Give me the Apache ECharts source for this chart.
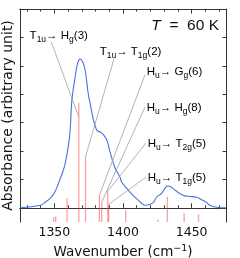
<!DOCTYPE html>
<html><head><meta charset="utf-8">
<script src="https://cdn.jsdelivr.net/npm/echarts@6/dist/echarts.min.js"></script>
<style>html,body{margin:0;padding:0;background:#fff}#c{width:240px;height:258px}</style>
</head><body><div id="c"></div>
<script>
// ---- data ----
const specX = [1325,1340,1343.4,1347,1350,1353,1356,1357.9,1360.3,1361.5,1362.8,1365.2,1367,1368.8,1370.6,1372.4,1374.8,1376.4,1378.5,1380.2,1381.1,1383.3,1385.7,1388.2,1390.6,1394.2,1397.8,1399.1,1403.9,1405.1,1408,1411.1,1414.8,1417.2,1419.6,1422,1424.5,1428.1,1431.8,1432.9,1435.4,1438.5,1441.4,1445,1448.7,1453.5,1455.9,1460.8,1463.2,1468.1,1475];
const specY = [0,0.09,0.2,0.33,0.52,0.86,1.25,1.56,2.2,2.74,3.8,4.62,5.1,5.24,5.14,4.86,3.98,3.6,3.09,2.82,2.72,2.67,2.58,2.39,1.96,1.4,1.08,0.9,0.62,0.55,0.4,0.27,0.11,0.09,0.12,0.18,0.38,0.51,0.76,0.77,0.72,0.6,0.5,0.42,0.4,0.37,0.32,0.19,0.09,0.02,0];
const stickX = [1349.5,1351,1359.3,1367.8,1372.7,1382.8,1384.5,1388.9,1389.6,1402,1425.5,1432.3,1444.5,1455];
const stickH = [0.17,0.2,0.84,4.2,2.3,0.94,0.7,1.08,0.62,0.41,0.08,0.88,0.32,0.27];
const xMajor = [1350,1400,1450];
const xMinor = [1330,1340,1360,1370,1380,1390,1410,1420,1430,1440,1460,1470];
const yTicks = [0,1,2,3,4,5,6,7];
const annoText = [
  '{m|T}{s|1u}{m|→ H}{s|g}{m|(3)}',
  '{m|T}{s|1u}{m|→ T}{s|1g}{m|(2)}',
  '{m|H}{s|u}{m|→ G}{s|g}{m|(6)}',
  '{m|H}{s|u}{m|→ H}{s|g}{m|(8)}',
  '{m|H}{s|u}{m|→ T}{s|2g}{m|(5)}',
  '{m|H}{s|u}{m|→ T}{s|1g}{m|(5)}'
];
// annotation layout (text anchor, line start, line end) in data coordinates
const annoLayout = [
  {tx:1332.0, ty:6.06, sx:1347.7, sy:5.85, ex:1367.8, ey:3.2},
  {tx:1383.0, ty:5.49, sx:1393.5, sy:5.25, ex:1372.7, ey:1.8},
  {tx:1417.3, ty:4.79, sx:1416.0, sy:4.68, ex:1382.8, ey:0.44},
  {tx:1417.3, ty:3.52, sx:1416.0, sy:3.55, ex:1384.5, ey:0.20},
  {tx:1418.0, ty:2.24, sx:1416.7, sy:2.28, ex:1388.9, ey:0.58},
  {tx:1418.0, ty:1.04, sx:1416.7, sy:1.08, ex:1389.6, ey:0.12}
];
const X_MIN = 1325, X_MAX = 1475, Y_MIN = -0.5, Y_MAX = 7;

const AX = '#333';
const chart = echarts.init(document.getElementById('c'), null, {renderer:'canvas'});
function xAx(pos, vals, len, withLabel, extra){
  return Object.assign({
    type:'value', min:X_MIN, max:X_MAX, position:pos, gridIndex:0,
    axisLine:{show:true, lineStyle:{color:AX, width:1}},
    axisTick:{show:true, inside:true, length:len, customValues:vals, lineStyle:{color:AX, width:1}},
    axisLabel: withLabel ? {show:true, customValues:xMajor, formatter:(v)=>String(v), fontSize:12.5, fontFamily:'DejaVu Sans', color:'#111', margin:4} : {show:false},
    splitLine:{show:false}
  }, extra||{});
}
function yAx(pos, extra){
  return Object.assign({
    type:'value', min:Y_MIN, max:Y_MAX, position:pos, gridIndex:0,
    axisLine:{show:true, lineStyle:{color:AX, width:1}},
    axisTick:{show:true, inside:true, length:3.5, customValues:yTicks, lineStyle:{color:AX, width:1}},
    axisLabel:{show:false}, splitLine:{show:false}
  }, extra||{});
}
const richA = {
  m:{fontSize:11.5, fontFamily:'Liberation Sans', color:'#111', lineHeight:16, verticalAlign:'middle'},
  s:{fontSize:8.5, fontFamily:'Liberation Sans', color:'#111', lineHeight:16, verticalAlign:'bottom'}
};
chart.setOption({
  animation:false,
  grid:{left:20, right:14, top:9, bottom:36, containLabel:false, outerBoundsMode:'none'},
  xAxis:[
    xAx('bottom', xMajor, 4.5, true, {
      name:'{n|Wavenumber (cm}{p|−1}{n|)}', nameLocation:'middle', nameGap:17,
      nameTextStyle:{rich:{
        n:{fontSize:13.5, fontFamily:'DejaVu Sans', color:'#111', lineHeight:17, verticalAlign:'middle'},
        p:{fontSize:9.5, fontFamily:'DejaVu Sans', color:'#111', lineHeight:17, verticalAlign:'top'}}}
    }),
    xAx('bottom', xMinor, 2.5, false),
    xAx('top', xMajor, 4.5, false),
    xAx('top', xMinor, 2.5, false)
  ],
  yAxis:[
    yAx('left', {name:'Absorbance (arbitrary unit)', nameLocation:'middle', nameGap:5,
      nameTextStyle:{fontSize:14, fontFamily:'DejaVu Sans', color:'#111'}}),
    yAx('right')
  ],
  graphic:[{type:'text', right:21, top:18, z:10,
    style:{text:'{i|T}{n|  =  60 K}', rich:{
      i:{fontSize:15.5, fontStyle:'italic', fontFamily:'Liberation Sans', fill:'#111'},
      n:{fontSize:15.5, fontFamily:'Liberation Sans', fill:'#111'}}}}],
  series:[
    {type:'custom', xAxisIndex:0, yAxisIndex:0, z:1, clip:false,
     data: stickX.map((x,i)=>[x, stickH[i]]),
     renderItem:(p, api)=>{
       const x = api.value(0), h = api.value(1);
       const a = api.coord([x, Y_MIN]), b = api.coord([x, Y_MIN + h]);
       return {type:'line', shape:{x1:a[0], y1:a[1], x2:b[0], y2:b[1]},
         style:{stroke:'rgba(240,70,70,0.5)', lineWidth:1.3}};
     }},
    {type:'line', xAxisIndex:0, yAxisIndex:0, z:3, smooth:0.4, showSymbol:false,
     data: specX.map((x,i)=>[x, specY[i]]),
     lineStyle:{color:'#4a6ee0', width:1.1}},
    {type:'custom', xAxisIndex:0, yAxisIndex:0, z:4, clip:false,
     data: annoText.map((t,i)=>[annoLayout[i].tx, annoLayout[i].ty, i]),
     renderItem:(p, api)=>{
       const L = annoLayout[p.dataIndex];
       const t = api.coord([L.tx, L.ty]), s = api.coord([L.sx, L.sy]), e = api.coord([L.ex, L.ey]);
       return {type:'group', children:[
         {type:'line', shape:{x1:s[0], y1:s[1], x2:e[0], y2:e[1]}, style:{stroke:'#a0a0a0', lineWidth:0.8}},
         {type:'text', x:t[0], y:t[1], style:{text:annoText[p.dataIndex], rich:richA, align:'left', verticalAlign:'middle'}}
       ]};
     }}
  ]
});
</script></body></html>
